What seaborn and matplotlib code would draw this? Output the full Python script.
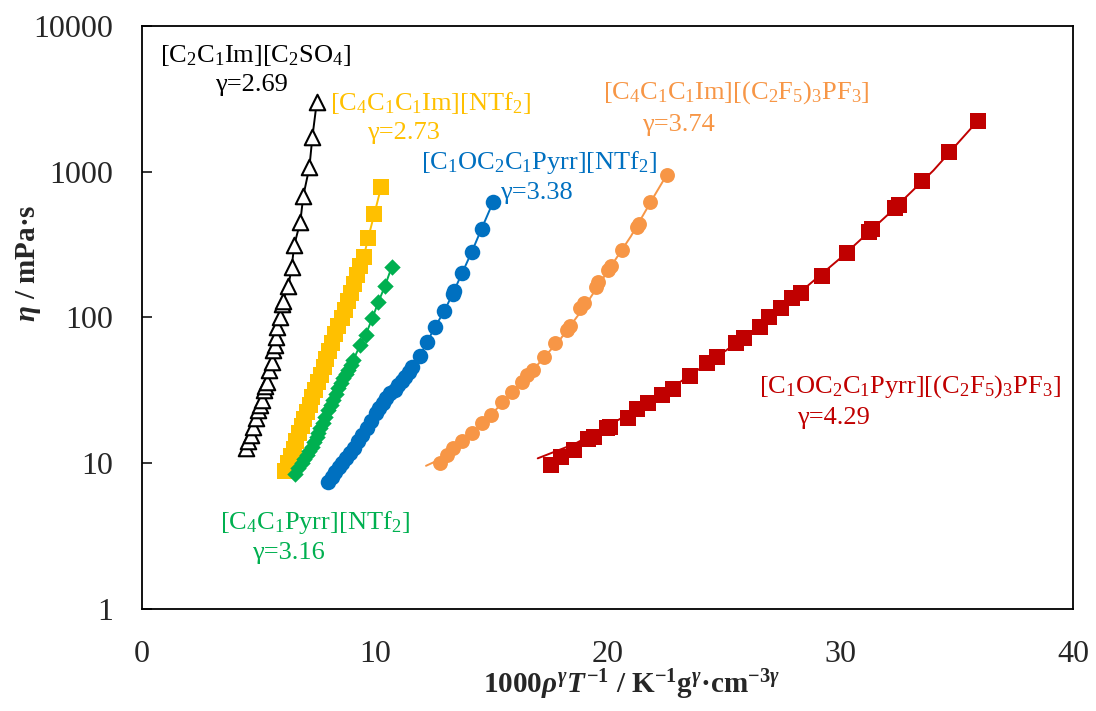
import matplotlib
matplotlib.use('Agg')
import matplotlib.pyplot as plt
import seaborn as sns
from matplotlib.ticker import FixedLocator, FixedFormatter, NullLocator

# values: x = 1000 rho^gamma / T, y = viscosity (mPa s)
black_x = [4.47, 4.57, 4.68, 4.78, 4.90, 5.00, 5.07, 5.14, 5.24, 5.30, 5.36, 5.47, 5.57, 5.64,
           5.70, 5.76, 5.81, 5.93, 6.00, 6.04, 6.29, 6.43, 6.54, 6.80, 6.93, 7.19, 7.32, 7.51]
black_y = [12.7, 14.1, 15.6, 17.8, 20.4, 23.2, 25.0, 27.2, 31.8, 34.0, 36.3, 43.6, 49.8, 59.8,
           65.0, 73.9, 86.5, 100, 124, 130, 164, 223, 314, 454, 685, 1073, 1740, 3027]

yellow_x = [6.15, 6.28, 6.40, 6.52, 6.63, 6.75, 6.86, 6.97, 7.08, 7.20, 7.32, 7.44, 7.56, 7.68,
            7.80, 7.92, 8.05, 8.18, 8.31, 8.44, 8.57, 8.70, 8.83, 8.97, 9.10, 9.24, 9.38, 9.52,
            9.71, 9.98, 10.27]
yellow_y = [8.8, 10.0, 11.2, 12.6, 14.2, 16.0, 17.9, 20.0, 22.3, 25.0, 28.4, 32.0, 36.0, 40.5,
            46.0, 52.0, 59.0, 67.0, 76.5, 87.0, 99.0, 113, 129, 148, 169, 195, 224, 258,
            349, 513, 782]

green_x = [6.57, 6.72, 6.86, 6.97, 7.08, 7.18, 7.29, 7.40, 7.51, 7.58, 7.65, 7.76, 7.86, 8.00,
           8.10, 8.22, 8.32, 8.43, 8.55, 8.65, 8.76, 8.86, 8.96, 9.08, 9.37, 9.61, 9.89, 10.15,
           10.44, 10.73]
green_y = [8.44, 9.23, 10.0, 10.7, 11.4, 12.2, 13.0, 14.0, 15.2, 16.2, 17.4, 19.0, 20.9, 23.2,
           25.0, 27.2, 30.0, 32.7, 35.5, 38.3, 41.0, 43.6, 47.0, 51.1, 64.8, 75.9, 98.8, 127,
           165, 223]

blue_x = [8.00, 8.15, 8.29, 8.45, 8.58, 8.75, 8.94, 9.10, 9.29, 9.45, 9.65, 9.85, 10.05, 10.20,
          10.37, 10.50, 10.66, 10.85, 11.01, 11.15, 11.30, 11.45, 11.59, 11.93, 12.24, 12.59,
          12.98, 13.34, 13.40, 13.76, 14.17, 14.59, 15.09]
blue_y = [7.47, 8.1, 8.75, 9.4, 10.0, 10.8, 11.7, 12.8, 14.1, 15.6, 17.4, 19.5, 22.0, 23.8,
          25.8, 28.0, 30.5, 32.0, 34.4, 36.5, 39.3, 42.5, 46.0, 54.4, 67.4, 86.5,
          110, 145, 152, 203, 283, 407, 623]

orange_x = [12.80, 13.09, 13.37, 13.74, 14.17, 14.60, 14.98, 15.45, 15.88, 16.31, 16.55, 16.79,
            17.27, 17.74, 18.25, 18.40, 18.82, 19.00, 19.49, 19.60, 20.03, 20.15, 20.61, 21.25,
            21.35, 21.83, 22.54]
orange_y = [10.0, 11.4, 12.7, 14.1, 16.1, 18.8, 21.4, 26.5, 31.0, 36.3, 40.0, 43.6,
            53.8, 66.5, 82, 88, 116, 125, 163, 175, 212, 225, 290, 420,
            440, 623, 950]
orange_fit_x = [12.2, 13.0, 14.0, 15.0, 16.0, 17.0, 18.0, 19.0, 20.0, 21.0, 22.0, 22.54]
orange_fit_y = [9.6, 11.0, 15.0, 21.5, 32.0, 47.5, 72, 118, 207, 360, 680, 950]

red_x = [17.56, 18.02, 18.56, 19.18, 19.42, 19.96, 20.11, 20.88, 21.27, 21.74, 22.35, 22.82,
         23.52, 24.29, 24.68, 25.53, 25.84, 26.53, 26.92, 27.47, 27.93, 28.32, 29.22, 30.30,
         31.23, 31.34, 32.34, 32.50, 33.50, 34.66, 35.91]
red_y = [9.73, 11.0, 12.3, 14.6, 15.2, 17.5, 17.8, 20.3, 23.4, 25.8, 29.4, 32.2,
         39.7, 48.5, 53.8, 66.5, 72.0, 86.5, 100, 116, 135, 147, 193, 276,
         388, 403, 561, 591, 868, 1373, 2240]
red_fit_x = [17.0, 18.6, 20.0, 22.0, 24.0, 26.0, 28.0, 30.0, 32.0, 34.0, 35.91]
red_fit_y = [10.8, 13.6, 18.0, 27.3, 45, 75, 137, 255, 500, 1020, 2240]

names = [r'[C$_2$C$_1$Im][C$_2$SO$_4$]',
         r'[C$_4$C$_1$C$_1$Im][NTf$_2$]',
         r'[C$_1$OC$_2$C$_1$Pyrr][NTf$_2$]',
         r'[C$_4$C$_1$C$_1$Im][(C$_2$F$_5$)$_3$PF$_3$]',
         r'[C$_4$C$_1$Pyrr][NTf$_2$]',
         r'[C$_1$OC$_2$C$_1$Pyrr][(C$_2$F$_5$)$_3$PF$_3$]']
gammas = ['γ=2.69', 'γ=2.73', 'γ=3.38', 'γ=3.74', 'γ=3.16', 'γ=4.29']

# style
sns.set_style('white')
plt.rcParams['font.family'] = ['Liberation Serif', 'DejaVu Serif']
plt.rcParams['mathtext.fontset'] = 'custom'
plt.rcParams['mathtext.rm'] = 'Liberation Serif'
plt.rcParams['mathtext.it'] = 'Liberation Serif:italic:bold'
plt.rcParams['mathtext.bf'] = 'Liberation Serif:bold'

fig = plt.figure(figsize=(10.96, 7.11), dpi=100)
ax = fig.add_axes([0.1296, 0.1435, 0.8495, 0.820])

#%%
# lines first, then markers on top
series = [
    (black_x, black_y, black_x, black_y, 'black', '^', 'white', 125),
    (yellow_x, yellow_y, yellow_x, yellow_y, '#FFC000', 's', '#FFC000', 125),
    (green_x, green_y, green_x, green_y, '#00B050', 'D', '#00B050', 70),
    (blue_x, blue_y, blue_x, blue_y, '#0070C0', 'o', '#0070C0', 125),
    (orange_x, orange_y, orange_fit_x, orange_fit_y, '#F79646', 'o', '#F79646', 115),
    (red_x, red_y, red_fit_x, red_fit_y, '#C00000', 's', '#C00000', 135),
]
for px, py, lx, ly, col, mk, fc, sz in series:
    sns.lineplot(x=lx, y=ly, ax=ax, color=col, linewidth=1.4, estimator=None, sort=False, zorder=2)
    sns.scatterplot(x=px, y=py, ax=ax, marker=mk, s=sz, color=fc, edgecolor=col,
                    linewidth=1.5 if fc == 'white' else 0, zorder=3)

ax.set_yscale('log')
ax.set_xlim(0, 40)
ax.set_ylim(1, 10000)
ax.xaxis.set_major_locator(FixedLocator([0, 10, 20, 30, 40]))
ax.yaxis.set_major_locator(FixedLocator([1, 10, 100, 1000, 10000]))
ax.yaxis.set_major_formatter(FixedFormatter(['1', '10', '100', '1000', '10000']))
ax.yaxis.set_minor_locator(NullLocator())
ax.tick_params(axis='x', length=0, pad=22, labelsize=23)
ax.tick_params(axis='y', direction='in', length=7, width=1.3, pad=21, labelsize=23, left=True)
for sp in ax.spines.values():
    sp.set_linewidth(1.3)
    sp.set_color('black')

ax.set_xlabel(r'1000$\rho^{\gamma}T^{\mathbf{-1}}$ / K$^{\mathbf{-1}}$g$^{\gamma}$·cm$^{\mathbf{-3}\gamma}$',
              fontsize=21, fontweight='bold')
ax.set_ylabel(r'$\eta$ / mPa·s', fontsize=21, fontweight='bold')
ax.xaxis.set_label_coords(0.526, -0.101)
ax.yaxis.set_label_coords(-0.106, 0.593)

#%%
# annotations (axes fractions)
name_pos = [(0.019, 0.950), (0.202, 0.868), (0.300, 0.765), (0.495, 0.885), (0.084, 0.149), (0.663, 0.381)]
gamma_pos = [(0.078, 0.899), (0.242, 0.816), (0.385, 0.714), (0.537, 0.830), (0.118, 0.096), (0.704, 0.328)]
colors = ['black', '#FFC000', '#0070C0', '#F79646', '#00B050', '#C00000']
for nm, gm, p1, p2, c in zip(names, gammas, name_pos, gamma_pos, colors):
    ax.text(p1[0], p1[1], nm, transform=ax.transAxes, color=c, fontsize=19, va='center', ha='left')
    ax.text(p2[0], p2[1], gm, transform=ax.transAxes, color=c, fontsize=19, va='center', ha='left')

fig.savefig('out.png', dpi=100)
